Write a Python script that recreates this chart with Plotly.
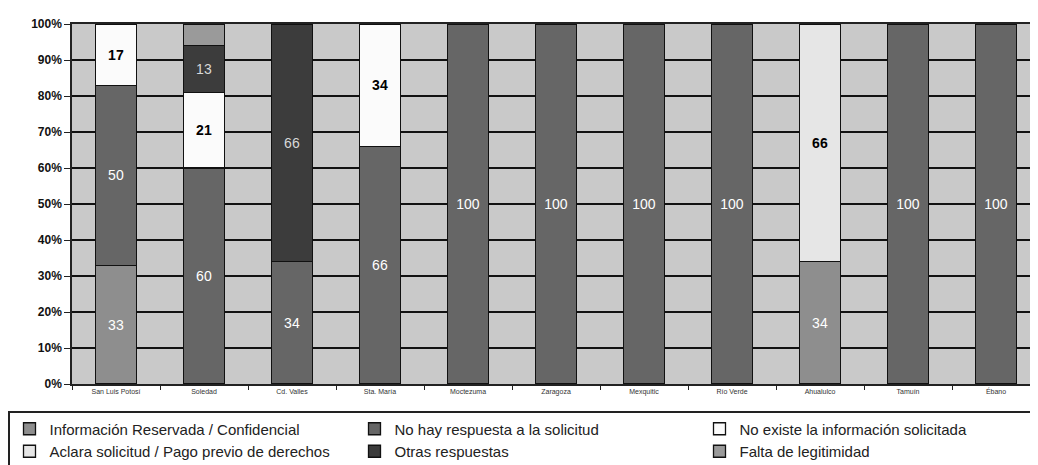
import plotly.graph_objects as go

categories = ["San Luis Potosí", "Soledad", "Cd. Valles", "Sta. María", "Moctezuma",
              "Zaragoza", "Mexquitic", "Río Verde", "Ahualulco", "Tamuín", "Ébano"]

info_reservada = [33, None, None, None, None, None, None, None, 34, None, None]
no_hay_respuesta = [50, 60, 34, 66, 100, 100, 100, 100, None, 100, 100]
no_existe = [17, 21, None, 34, None, None, None, None, None, None, None]
aclara = [None, None, None, None, None, None, None, None, 66, None, None]
otras = [None, 13, 66, None, None, None, None, None, None, None, None]
falta_legitimidad = [None, 6, None, None, None, None, None, None, None, None, None]

series = [
    ("Información Reservada / Confidencial", info_reservada, "#8e8e8e", "white", 400, True),
    ("No hay respuesta a la solicitud", no_hay_respuesta, "#666666", "white", 400, True),
    ("No existe la información solicitada", no_existe, "#fbfbfb", "black", 700, True),
    ("Aclara solicitud / Pago previo de derechos", aclara, "#e6e6e6", "black", 700, True),
    ("Otras respuestas", otras, "#3c3c3c", "#d8d8d8", 400, True),
    ("Falta de legitimidad", falta_legitimidad, "#9a9a9a", "white", 400, False),
]

fig = go.Figure()
for name, vals, color, tcolor, weight, show_text in series:
    texts = [("" if v is None else str(v)) if show_text else "" for v in vals]
    fig.add_trace(go.Bar(
        name=name, x=categories, y=vals,
        marker=dict(color=color, line=dict(color="#111111", width=1.3)),
        text=texts, textposition="inside", insidetextanchor="middle",
        textangle=0, constraintext="none",
        textfont=dict(family="Liberation Sans, Arial", size=14, color=tcolor, weight=weight),
        hoverinfo="name+y",
    ))

fig.update_layout(
    barmode="stack",
    bargap=0.54,
    width=1038, height=465,
    margin=dict(l=63, r=4, t=16, b=82),
    paper_bgcolor="white",
    plot_bgcolor="#c9c9c9",
    font=dict(family="Liberation Sans, Arial", color="#111111"),
    legend=dict(
        orientation="h", traceorder="normal",
        x=-0.062, xanchor="left", y=-0.075, yanchor="top",
        bgcolor="white", bordercolor="#222222", borderwidth=1.5,
        font=dict(size=15, color="#222222"),
        entrywidth=300, entrywidthmode="pixels",
        itemwidth=30, tracegroupgap=0,
    ),
    showlegend=True,
)

fig.update_xaxes(
    showline=True, linecolor="#222222", linewidth=1.5, mirror=True,
    ticks="outside", tickson="boundaries", ticklen=4, tickcolor="#222222",
    tickfont=dict(size=7, color="#333333"),
    showgrid=False,
)
fig.update_yaxes(
    range=[0, 100], dtick=10,
    ticksuffix="%",
    showline=True, linecolor="#222222", linewidth=1.5, mirror=True,
    ticks="outside", ticklen=6, tickcolor="#222222",
    tickfont=dict(size=12, color="#111111", weight=700),
    showgrid=True, gridcolor="#111111", gridwidth=1.5,
    zeroline=False,
)

fig.write_html("out.html")
